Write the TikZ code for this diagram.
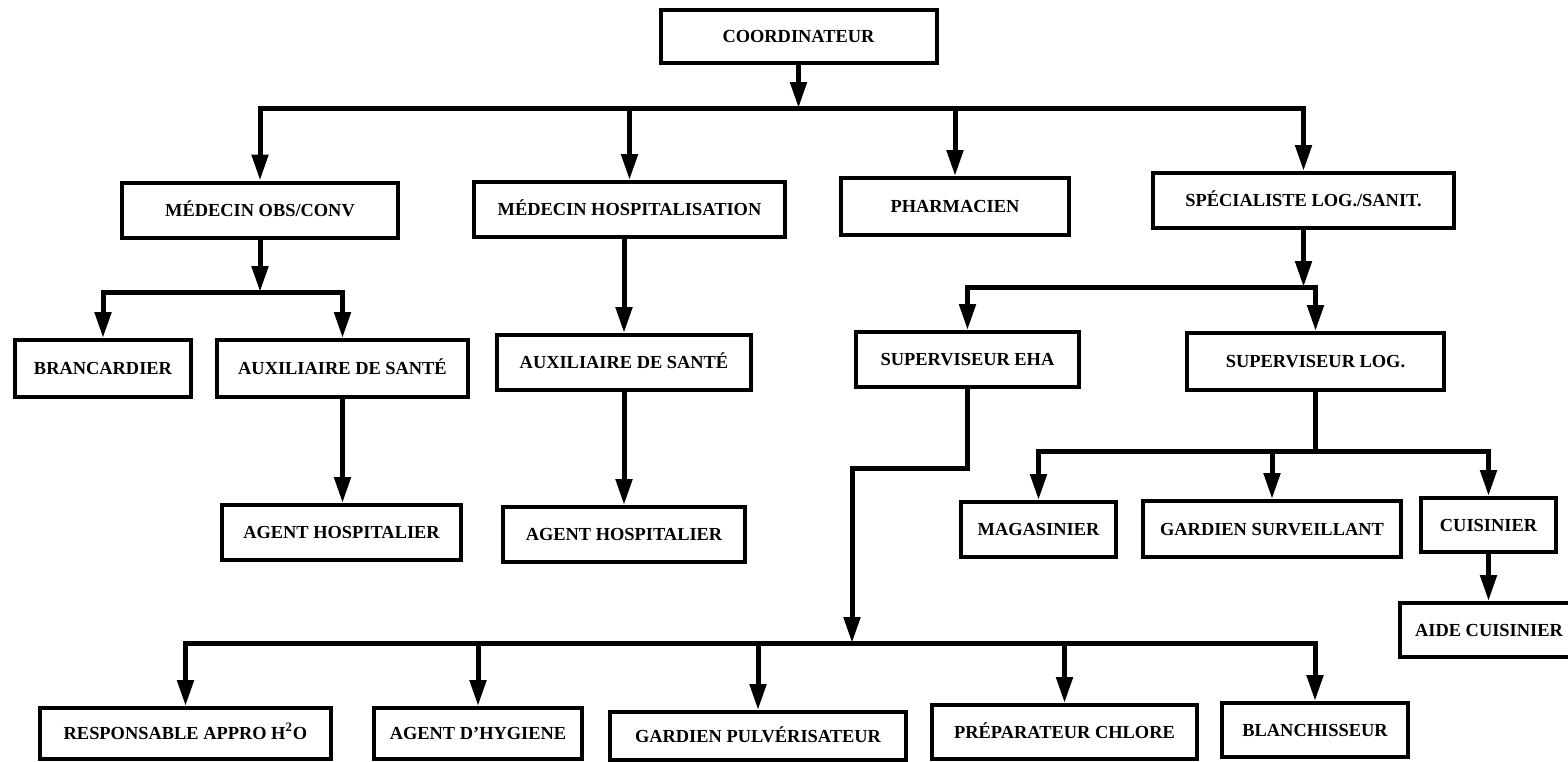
\documentclass[tikz,border=0pt]{standalone}
\usepackage{fontspec}
\setmainfont{Liberation Serif}
\usetikzlibrary{arrows.meta}

\tikzset{
  poste/.style={draw, line width=2pt, inner sep=0pt, minimum height=27.5pt,
    text height=6.1pt, text depth=0pt,
    font=\bfseries\fontsize{9.2}{11}\selectfont},
  lien/.style={line width=2.5pt, line cap=rect},
  fleche/.style={lien, -{Triangle[length=13pt,width=8pt]}},
}

\begin{document}
\begin{tikzpicture}[x=0.5pt,y=0.5pt,yscale=-1,xscale=1]
\useasboundingbox (0,0) rectangle (1568,761);

%Shape: Rectangle [coordinateur]
\node[poste, minimum width=138pt, minimum height=26.5pt] (coord) at (798.5,36.5) {COORDINATEUR};
%Shape: Rectangle [niveau 1]
\node[poste, minimum width=138pt] (moc) at (260,210) {MÉDECIN OBS/CONV};
\node[poste, minimum width=155.5pt] (mh) at (629.5,209.5) {MÉDECIN HOSPITALISATION};
\node[poste, minimum width=114pt, minimum height=28.5pt] (pharm) at (955,206.5) {PHARMACIEN};
\node[poste, minimum width=150.5pt] (spec) at (1303.5,200.5) {SPÉCIALISTE LOG./SANIT.};
%Shape: Rectangle [niveau 2]
\node[poste, minimum width=88pt, minimum height=28.5pt] (branc) at (103,368.5) {BRANCARDIER};
\node[poste, minimum width=125.5pt, minimum height=28.5pt] (aux1) at (342.5,368.5) {AUXILIAIRE DE SANTÉ};
\node[poste, minimum width=127pt] (aux2) at (624,362.5) {AUXILIAIRE DE SANTÉ};
\node[poste, minimum width=111.5pt] (supeha) at (967.5,359.5) {SUPERVISEUR EHA};
\node[poste, minimum width=128.5pt, minimum height=28.5pt] (suplog) at (1315.5,361.5) {SUPERVISEUR LOG.};
%Shape: Rectangle [niveau 3]
\node[poste, minimum width=119.5pt] (ah1) at (341.5,532.5) {AGENT HOSPITALIER};
\node[poste, minimum width=121pt] (ah2) at (624,534.5) {AGENT HOSPITALIER};
\node[poste, minimum width=77.5pt] (mag) at (1038.5,529.5) {MAGASINIER};
\node[poste, minimum width=129pt, minimum height=28pt] (gsurv) at (1272,529) {GARDIEN SURVEILLANT};
\node[poste, minimum width=67.5pt, minimum height=27pt] (cuis) at (1488.5,525) {CUISINIER};
\node[poste, minimum width=89pt, minimum height=27pt] (aidec) at (1489,630) {AIDE CUISINIER};
%Shape: Rectangle [niveau 4]
\node[poste, minimum width=145.5pt, minimum height=25.5pt] (resp) at (185.5,733.5) {RESPONSABLE APPRO H\textsuperscript{2}O};
\node[poste, minimum width=104pt, minimum height=25.5pt] (hyg) at (478,733.5) {AGENT D’HYGIENE};
\node[poste, minimum width=148pt, minimum height=24pt] (gpulv) at (758,736) {GARDIEN PULVÉRISATEUR};
\node[poste, minimum width=132.5pt, minimum height=27pt] (prep) at (1064.5,732) {PRÉPARATEUR CHLORE};
\node[poste, minimum width=93pt, minimum height=27pt] (blanch) at (1315,730) {BLANCHISSEUR};

% Junctions
\coordinate (barA) at (0,108);
\coordinate (barB) at (0,292);
\coordinate (barC) at (0,287);
\coordinate (barE) at (0,451);
\coordinate (coudeD) at (852,468);
\coordinate (barD) at (0,643);

%Straight Lines [coordinateur]
\draw[fleche] (coord.south) -- (coord.south |- barA);
\draw[lien] (moc.north |- barA) -- (spec.north |- barA);
\foreach \n in {moc,mh,pharm,spec}
  \draw[fleche] (\n.north |- barA) -- (\n.north);

%Straight Lines [médecins]
\draw[fleche] (moc.south) -- (moc.south |- barB);
\draw[lien] (branc.north |- barB) -- (aux1.north |- barB);
\foreach \n in {branc,aux1}
  \draw[fleche] (\n.north |- barB) -- (\n.north);
\draw[fleche] (aux1.south) -- (aux1.south |- ah1.north);
\draw[fleche] (aux2.north |- mh.south) -- (aux2.north);
\draw[fleche] (aux2.south) -- (ah2.north);

%Straight Lines [spécialiste]
\draw[fleche] (spec.south) -- (spec.south |- barC);
\draw[lien] (supeha.north |- barC) -- (suplog.north |- barC);
\foreach \n in {supeha,suplog}
  \draw[fleche] (\n.north |- barC) -- (\n.north);

%Straight Lines [superviseur EHA]
\draw[fleche] (supeha.south) |- (coudeD) -- (coudeD |- barD);
\draw[lien] (resp.north |- barD) -- (blanch.north |- barD);
\foreach \n in {resp,hyg,gpulv,prep,blanch}
  \draw[fleche] (\n.north |- barD) -- (\n.north);

%Straight Lines [superviseur log.]
\draw[lien] (suplog.south) -- (suplog.south |- barE);
\draw[lien] (mag.north |- barE) -- (cuis.north |- barE);
\foreach \n in {mag,gsurv,cuis}
  \draw[fleche] (\n.north |- barE) -- (\n.north);
\draw[fleche] (cuis.south) -- (cuis.south |- aidec.north);

\end{tikzpicture}
\end{document}
